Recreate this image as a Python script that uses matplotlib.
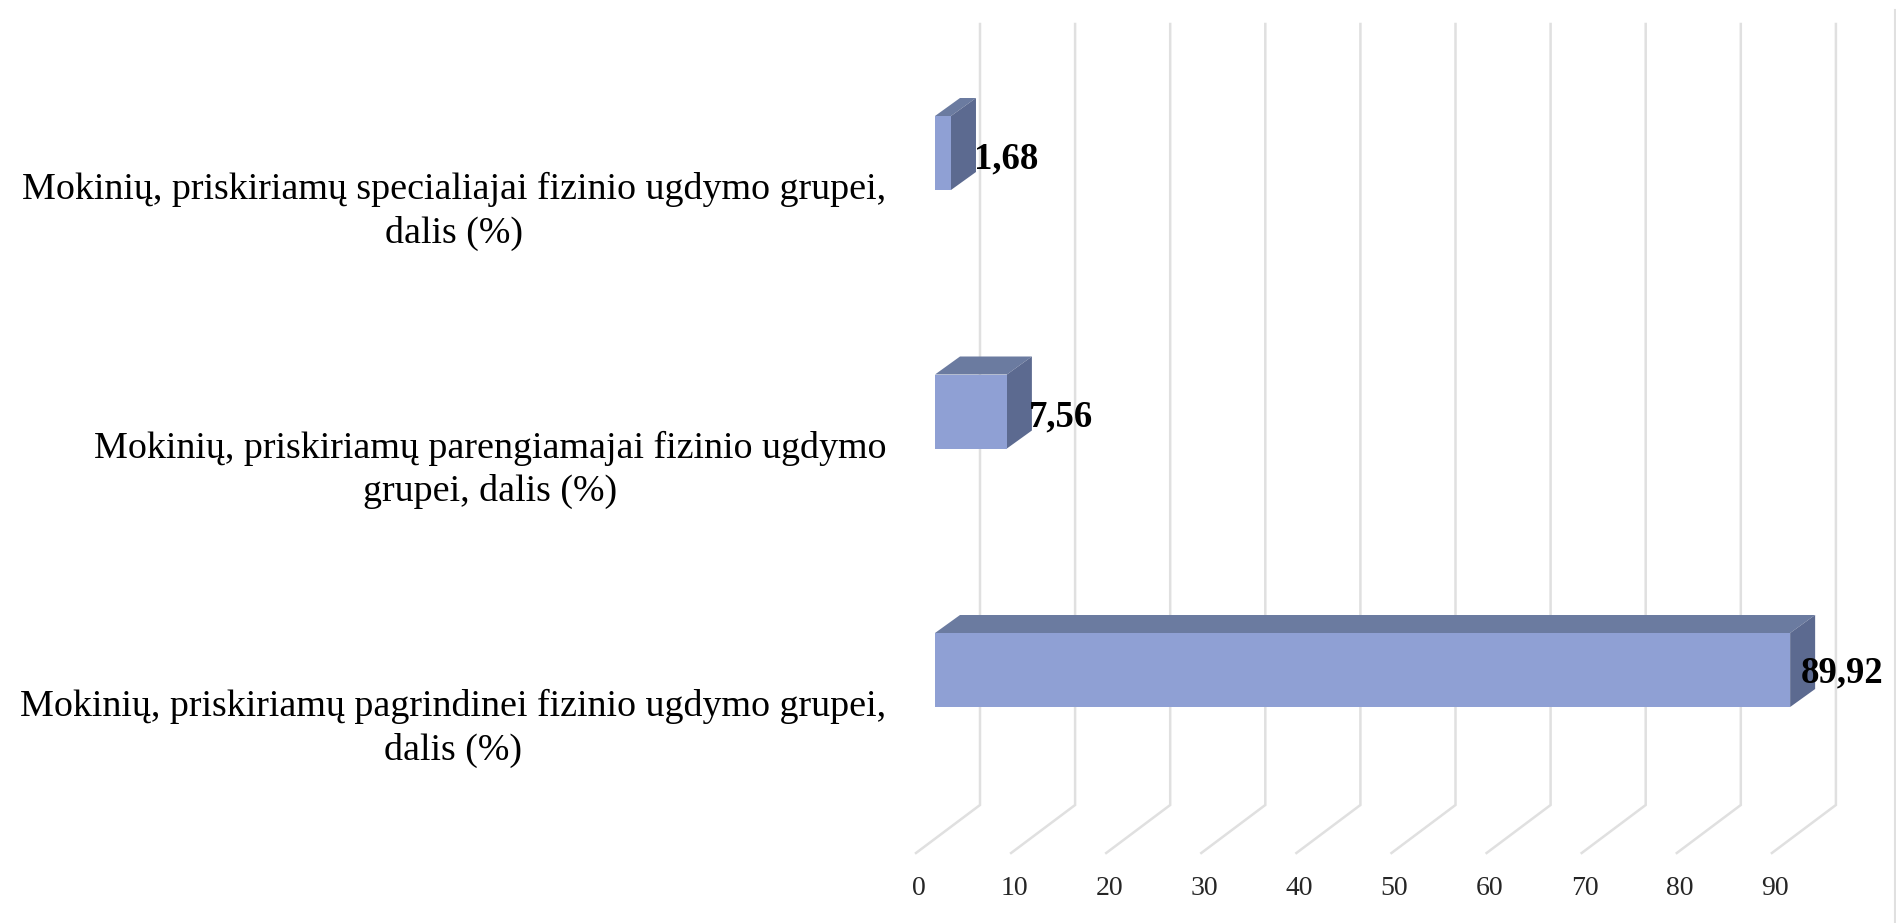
import matplotlib
matplotlib.use("Agg")
import matplotlib.pyplot as plt
from matplotlib.patches import Polygon
from matplotlib.transforms import ScaledTranslation

categories = [
    "Mokinių, priskiriamų pagrindinei fizinio ugdymo grupei,\ndalis (%)",
    "Mokinių, priskiriamų parengiamajai fizinio ugdymo\ngrupei, dalis (%)",
    "Mokinių, priskiriamų specialiajai fizinio ugdymo grupei,\ndalis (%)",
]
values = [89.92, 7.56, 1.68]
value_labels = ["89,92", "7,56", "1,68"]
x_ticks = [0, 10, 20, 30, 40, 50, 60, 70, 80, 90]

W, H = 1896, 923
PX_PER_UNIT = 9.51
ROW_PX = 258.5
LEFT, BOTTOM, TOP, RIGHT = 916, 853, 0, 1896
FRONT = "#8fa0d4"
TOPC = "#6b7ba0"
SIDE = "#5c6a90"
GRID = "#e0e0e0"
SERIF = "Liberation Serif"

fig = plt.figure(figsize=(W / 100, H / 100), dpi=100, facecolor="white")
ax = fig.add_axes([LEFT / W, (H - BOTTOM) / H, (RIGHT - LEFT) / W, (BOTTOM - TOP) / H])
ax.set_xlim(0, (RIGHT - LEFT) / PX_PER_UNIT)
# category 0 sits 720 px from the top of the figure
y0 = (BOTTOM - 720) / ROW_PX
ax.set_ylim(-y0, (BOTTOM - TOP) / ROW_PX - y0)
for s in ax.spines.values():
    s.set_visible(False)
ax.patch.set_alpha(0)

dx_u = lambda px: px / PX_PER_UNIT
dy_u = lambda px: px / ROW_PX

# 3-D floor and back wall grid lines
GRID_TOP_PX = 24
floor_dx, floor_dy = dx_u(64), dy_u(48)
y_floor = ax.get_ylim()[0]
y_top = y_floor + dy_u(BOTTOM - GRID_TOP_PX)
for v in x_ticks:
    ax.plot([v, v + floor_dx, v + floor_dx], [y_floor, y_floor + floor_dy, y_top],
            color=GRID, lw=1.8, solid_joinstyle="miter", clip_on=False, zorder=1)

# 3-D bars
bar_x0 = dx_u(19)
bar_up = dy_u(50)
half_h = dy_u(37)
dep_x, dep_y = dx_u(25), dy_u(18)
for i, v in enumerate(values):
    xa, xb = bar_x0, bar_x0 + v
    yc = i + bar_up
    yl, yh = yc - half_h, yc + half_h
    ax.add_patch(Polygon([(xa, yh), (xb, yh), (xb + dep_x, yh + dep_y), (xa + dep_x, yh + dep_y)],
                         facecolor=TOPC, edgecolor="none", zorder=3))
    ax.add_patch(Polygon([(xb, yl), (xb, yh), (xb + dep_x, yh + dep_y), (xb + dep_x, yl + dep_y)],
                         facecolor=SIDE, edgecolor="none", zorder=3))
    ax.add_patch(Polygon([(xa, yl), (xb, yl), (xb, yh), (xa, yh)],
                         facecolor=FRONT, edgecolor="none", zorder=4))

label_dx_px = [52, 54, 55]
label_dy_px = [-3, -5, -6]
for i, (v, t) in enumerate(zip(values, value_labels)):
    ax.annotate(t, xy=(bar_x0 + v, i + bar_up), xytext=(label_dx_px[i] * 0.72, label_dy_px[i] * 0.72),
                textcoords="offset points", ha="center", va="center",
                family=SERIF, fontweight="bold", fontsize=26.5, color="black", zorder=6)

ax.set_xticks(x_ticks)
ax.set_xticklabels([str(v) for v in x_ticks], family=SERIF, fontsize=20, color="#262626")
ax.tick_params(axis="x", length=0, pad=16.5)
shift = ScaledTranslation(3 / 100, 0, fig.dpi_scale_trans)
for lab in ax.get_xticklabels():
    lab.set_transform(lab.get_transform() + shift)
ax.set_yticks(range(len(categories)))
ax.set_yticklabels(categories, family=SERIF, fontsize=27.4, color="black", multialignment="center", linespacing=1.32)
ax.tick_params(axis="y", length=0, pad=21.5)

# thin frame edge at the far right of the picture
fig.add_artist(plt.Line2D([1895 / W, 1895 / W], [0, (H - 10) / H], color=GRID, lw=1.5))

fig.savefig("out.png", dpi=100)
